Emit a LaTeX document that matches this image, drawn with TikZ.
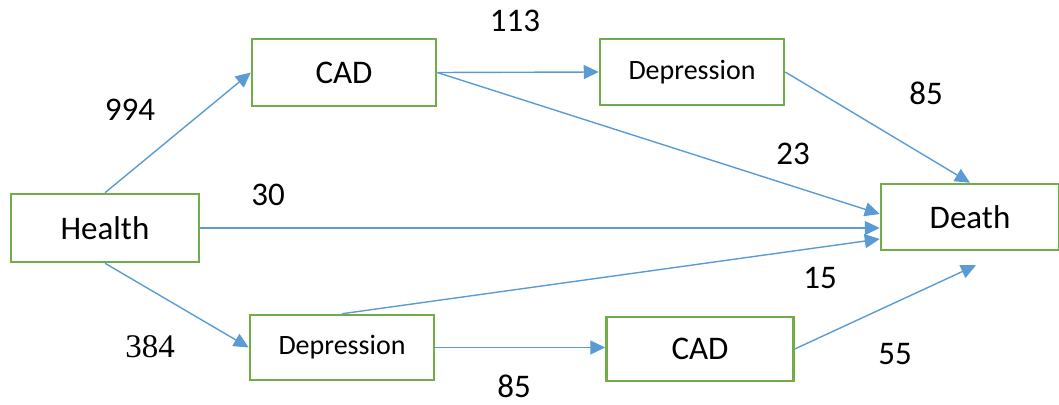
\documentclass[tikz,border=0pt]{standalone}
\usepackage{fontspec}
\setmainfont{Carlito}
\newfontfamily\numserif{Liberation Serif}
\usetikzlibrary{arrows.meta,calc}
\definecolor{boxgreen}{HTML}{70AD47}
\definecolor{linkblue}{HTML}{5B9BD5}
\begin{document}
\begin{tikzpicture}[x=1pt,y=-1pt,
  state/.style={draw=boxgreen, line width=2.5pt, inner sep=0pt,
    font=\fontsize{33}{40}\selectfont},
  smallstate/.style={state, font=\fontsize{28}{34}\selectfont},
  link/.style={draw=linkblue, line width=1.4pt,
    -{Triangle[length=15pt,width=14pt]}},
  count/.style={inner sep=0pt, font=\fontsize{33}{40}\selectfont}]
\useasboundingbox (0,0) rectangle (1059,404);

% states
\node[state, minimum width=188pt, minimum height=68pt] (health) at (105,228) {Health};
\node[state, minimum width=184pt, minimum height=67pt] (cadA) at (344,72.5) {CAD};
\node[smallstate, minimum width=184pt, minimum height=66pt] (depA) at (692,72) {Depression};
\node[state, minimum width=178pt, minimum height=66pt] (death) at (970,217) {Death};
\node[smallstate, minimum width=184pt, minimum height=65pt] (depB) at (342,347.5) {Depression};
\node[state, minimum width=187pt, minimum height=64pt] (cadB) at (700,349) {CAD};

\coordinate (deathLow) at ($(death.south)+(6,14)$);

% transitions
\draw[link] (health.north) -- (cadA.west);
\draw[link] (health.east) -- ($(death.west)+(0,11)$);
\draw[link] (health.south) -- (depB.west);
\draw[link] (cadA.east) -- (depA.west);
\draw[link] (cadA.east) -- ($(death.west)+(0,-3)$);
\draw[link] (depA.east) -- (death.north);
\draw[link] (depB.north) -- ($(death.west)+(0,22)$);
\draw[link] (depB.east) -- (depB.east -| cadB.west);
\draw[link] (cadB.east) -- (deathLow);

% transition counts
\node[count] (n994) at (130,110) {994};
\node[count] (n113) at (515,21) {113};
\node[count] (n85a) at (926,93) {85};
\node[count] (n23) at (793,154) {23};
\node[count] (n30) at (268,195) {30};
\node[count, font=\fontsize{33}{40}\selectfont\numserif] (n384) at (150,347) {384};
\node[count] (n15) at (820,278) {15};
\node[count] (n55) at (895,354) {55};
\node[count] (n85b) at (514,386) {85};
\end{tikzpicture}
\end{document}
